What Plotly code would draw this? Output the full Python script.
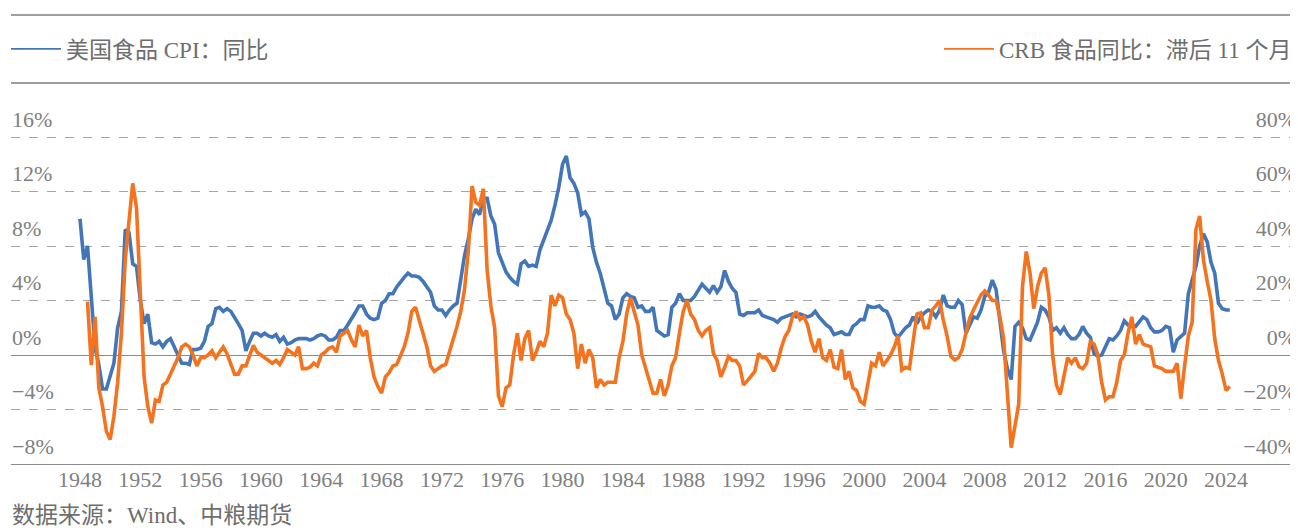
import pandas as pd
import plotly.graph_objects as go

# ---------------- data (quarterly readings from the chart) ----------------
cpi_start = "1948-01-01"
cpi_food_yoy = [
    # 1948-1959
    10.0, 7.0, 8.0, 4.5, 0.5, -0.7, -2.5, -2.5, -1.6, -0.6, 2.0, 3.2,
    9.2, 9.0, 6.7, 6.5, 4.0, 2.3, 3.0, 0.9, 0.8, 1.0, 0.6, 1.0,
    1.2, 0.6, -0.1, -0.6, -0.6, -0.7, 0.4, 0.4, 0.5, 1.0, 2.1, 2.3,
    3.4, 3.5, 3.2, 3.4, 3.2, 2.8, 2.3, 1.8, 0.3, 1.0, 1.6, 1.6,
    # 1960-1972
    1.4, 1.6, 1.4, 1.3, 1.5, 1.0, 1.3, 0.8, 0.9, 1.1, 1.2, 1.2,
    1.2, 1.1, 1.2, 1.4, 1.5, 1.4, 1.1, 1.1, 1.3, 1.8, 1.8, 2.2,
    2.6, 3.1, 3.6, 3.6, 3.0, 2.7, 2.6, 2.7, 3.8, 4.0, 4.5, 4.5,
    5.0, 5.4, 5.7, 6.0, 5.8, 5.8, 5.7, 5.4, 5.0, 4.6, 3.6, 3.3,
    3.3, 2.9, 3.3, 3.6,
    # 1973-1985
    3.8, 5.5, 7.3, 8.5, 10.0, 10.7, 10.3, 11.5, 11.5, 10.2, 9.6, 7.5,
    6.8, 6.1, 5.7, 5.4, 5.2, 6.7, 6.9, 6.5, 6.6, 6.5, 7.7, 8.5,
    9.2, 9.9, 11.0, 12.3, 14.0, 14.6, 13.0, 12.6, 11.9, 10.3, 10.5, 10.0,
    7.9, 6.8, 6.0, 5.0, 3.8, 3.6, 2.6, 3.0, 4.2, 4.5, 4.3, 4.2,
    3.5, 3.6, 3.2, 3.2,
    # 1986-1998
    3.5, 1.8, 1.6, 1.4, 1.5, 3.5, 3.8, 4.5, 4.0, 4.0, 4.0, 4.3,
    4.8, 5.2, 4.9, 4.6, 5.1, 4.6, 5.0, 6.2, 5.4, 4.9, 4.6, 3.0,
    2.9, 3.1, 3.1, 3.1, 3.3, 2.9, 2.8, 2.7, 2.6, 2.4, 2.7, 2.8,
    2.9, 3.0, 2.8, 3.0, 2.9, 2.8, 2.9, 3.2, 2.8, 2.5, 2.2, 2.0,
    1.5, 1.6, 1.7, 1.5,
    # 1999-2011
    1.5, 2.1, 2.3, 2.6, 2.6, 3.6, 3.5, 3.5, 3.6, 3.3, 3.2, 2.6,
    1.6, 1.3, 1.6, 2.0, 2.2, 2.8, 2.3, 2.8, 3.1, 3.3, 3.2, 2.8,
    3.3, 4.4, 3.6, 3.5, 3.5, 4.0, 3.7, 1.6, 2.2, 2.8, 2.7, 3.3,
    4.3, 4.6, 5.5, 4.8, 2.5, 0.3, -1.0, -1.8, 2.1, 2.4, 2.0, 1.2,
    1.1, 1.8, 2.4, 3.5,
    # 2012-2024
    3.3, 2.8, 1.8, 2.0, 1.6, 2.0, 1.5, 1.2, 1.2, 1.5, 2.1, 1.6,
    1.3, 0.1, -0.1, 0.0, 0.6, 1.2, 1.1, 1.4, 1.8, 2.5, 2.2, 2.1,
    2.1, 2.4, 2.8, 2.6, 2.0, 1.7, 1.7, 1.8, 2.1, 2.0, 0.2, 1.1,
    1.4, 1.6, 4.5, 5.5, 6.5, 8.0, 8.9, 8.3, 6.8, 6.0, 3.8, 3.4,
    3.3, 3.3,
]

crb_start = "1948-07-01"
crb_food_yoy_lag11 = [
    # 1948-1959
    19.6, -3.7, 14.0, -12, -19, -28, -31, -22.5, -10, 8,
    35, 50, 63, 54, 20, -8, -19, -25, -16.5, -17, -11, -10,
    -7, -4, -1, 3, 4, 3, 0, -4, -1, -1, 0, 1.5,
    -1, 1, 3, 0.5, -3, -7, -7, -4, -4, -0.5, 3.5, 1,
    # 1960-1972
    0, -1, -2, -3, -2, -3.5, -1, 2, 1, 0, 3, -5,
    -5, -4.5, -3, -4, 0, 1, 2.5, 3, 1, 7, 8, 9,
    5.5, 3, 11, 7, 9, -1, -8, -11.5, -14, -8, -6.5, -4,
    -3.5, 0, 3, 8, 16, 17.5, 13, 8, 3, -4, -6, -5,
    -4, -3.5, 1, 6,
    # 1973-1985
    10.5, 16, 24, 38, 62, 56, 55, 61, 31, 18, 10, -15,
    -19, -12, -11, 0, 8, -2, 6, 9, -2, 1, 5, 3,
    8, 22, 18, 22, 21, 15, 13, 8, -5, 4, -3, 2,
    -1, -12, -9, -11, -10, -10, -10, -1, 5, 15, 21, 16,
    11, 0, -5, -10,
    # 1986-1998
    -14, -14, -9, -15, -11, -4, -1, 8, 16, 20, 15, 13,
    9, 7, 9, 10, 0.6, -2, -8, -4.5, -0.6, -2, -2, -4,
    -11, -9.5, -8, -6, 0.6, -1, -1, -3, -6, -3, 2.5, 6.7,
    9, 14, 16, 13, 14, 11, 5, 1, 6, -1, -2, 2,
    -4.5, -5, 2, -9,
    # 1999-2011
    -6, -12, -13, -17, -18, -10, -3, -4, 1, -4, -2, 0,
    3, 7, -5.5, -4.5, -5, 5, 15, 15.5, 10, 10, 16.5, 18,
    20, 12.8, 7, -0.5, -1.8, -1, 2, 8, 13.5, 16.5, 19, 22,
    23.5, 22, 20, 20, 14, 6, -14, -34, -26, -18, 25, 38,
    30, 17, 25, 30,
    # 2012-2024
    32, 22, 0, -11, -14.5, -8, -1, -3, -1, -4.3, -5, -3,
    5, 4, 0, -10, -16.5, -15.3, -15.3, -10, -2, 0, 8, 14,
    4, 7.5, 4, 3.5, 3, -4, -4.5, -5, -6, -6, -6, -3,
    -16, -4, 7, 12, 46, 51, 35, 27, 20, 6, -2, -7,
    -13, -11.6,
]

left_ticks = [-8, -4, 0, 4, 8, 12, 16]
right_ticks = [-40, -20, 0, 20, 40, 60, 80]
year_ticks = list(range(1948, 2025, 4))

name_cpi = "美国食品 CPI：同比"
name_crb = "CRB 食品同比：滞后 11 个月"
source_text = "数据来源：Wind、中粮期货"

# ---------------- geometry (page pixels; the page body has an 8px margin) ----------------
OFF = 8
W, H = 1298 - OFF, 528 - OFF
PL, PR = 11 - OFF, 1297 - OFF      # plot area left / right
PT, PB = 100 - OFF, 464 - OFF      # plot area top / bottom
GRID_TOP = 137 - OFF               # row of the 16% gridline
px_per_pct = (PB - GRID_TOP) / (left_ticks[-1] - left_ticks[0])
left_top = left_ticks[-1] + (GRID_TOP - PT) / px_per_pct
ratio = right_ticks[-1] / left_ticks[-1]

BLUE = "#4276B8"
ORANGE = "#F4731F"
TXT = "#6e6e6e"
AX_TXT = "#808080"
FONT = "Liberation Serif, Noto Sans CJK SC, serif"


def py(p):  # page pixel row -> paper y
    return (PB - (p - OFF)) / (PB - PT)


def px(p):  # page pixel column -> paper x
    return ((p - OFF) - PL) / (PR - PL)


x_cpi = pd.date_range(cpi_start, periods=len(cpi_food_yoy), freq="QS")
x_crb = pd.date_range(crb_start, periods=len(crb_food_yoy_lag11), freq="QS")

fig = go.Figure()
fig.add_trace(go.Scatter(
    x=x_cpi, y=cpi_food_yoy, name=name_cpi, mode="lines",
    line=dict(color=BLUE, width=3.6), showlegend=False,
))
fig.add_trace(go.Scatter(
    x=x_crb, y=crb_food_yoy_lag11, name=name_crb, mode="lines",
    line=dict(color=ORANGE, width=3.6), yaxis="y2", showlegend=False,
))
# legend keys drawn with a thin line, as in the reference
fig.add_trace(go.Scatter(
    x=[None], y=[None], name=name_cpi, mode="lines",
    line=dict(color=BLUE, width=1.8), legend="legend", hoverinfo="skip",
))
fig.add_trace(go.Scatter(
    x=[None], y=[None], name=name_crb, mode="lines",
    line=dict(color=ORANGE, width=1.8), yaxis="y2", legend="legend2", hoverinfo="skip",
))

# x range from pixel geometry: 1948 label centre at page px 80, 15.08 px / year
x0 = pd.Timestamp("1948-01-01")
day_px = 15.08 / 365.25
xr = [x0 + pd.Timedelta(days=(11 - 80) / day_px), x0 + pd.Timedelta(days=(1297 - 80) / day_px)]

fig.update_layout(
    width=W, height=H,
    margin=dict(l=PL, r=W - PR, t=PT, b=H - PB, pad=0, autoexpand=False),
    paper_bgcolor="white", plot_bgcolor="white",
    font=dict(family=FONT, size=22, color=AX_TXT),
    showlegend=True,
    legend=dict(
        x=px(6), xanchor="left", y=py(49), yanchor="middle",
        font=dict(family=FONT, size=23, color=TXT),
        bgcolor="rgba(0,0,0,0)", itemwidth=50,
    ),
    legend2=dict(
        x=1, xanchor="right", y=py(49), yanchor="middle",
        font=dict(family=FONT, size=23, color=TXT),
        bgcolor="rgba(0,0,0,0)", itemwidth=50,
    ),
    xaxis=dict(
        type="date", range=xr,
        tickvals=[pd.Timestamp(f"{y}-01-01") for y in year_ticks],
        ticktext=[str(y) for y in year_ticks],
        showgrid=False, zeroline=False,
        showline=True, linecolor="#8c8c8c", linewidth=1.3,
        ticks="", ticklabelstandoff=-5,
        tickfont=dict(family=FONT, size=22, color=AX_TXT),
    ),
    yaxis=dict(
        range=[left_ticks[0], left_top],
        tickvals=left_ticks, ticktext=[f"{v}%".replace("-", "\u2212") for v in left_ticks],
        showgrid=True, gridcolor="#a6a6a6", griddash="dash", gridwidth=1,
        zeroline=True, zerolinecolor="#8c8c8c", zerolinewidth=1.3,
        showline=False, ticks="",
        ticklabelposition="inside", ticklabelshift=-18, ticklabelstandoff=-2,
        tickfont=dict(family=FONT, size=22, color=AX_TXT),
    ),
    yaxis2=dict(
        overlaying="y", side="right",
        range=[right_ticks[0], left_top * ratio],
        tickvals=right_ticks, ticktext=[f"{v}%".replace("-", "\u2212") for v in right_ticks],
        showgrid=False, zeroline=False, showline=False, ticks="",
        ticklabelposition="inside", ticklabelshift=-18, ticklabelstandoff=-2,
        tickfont=dict(family=FONT, size=22, color=AX_TXT),
    ),
)

# horizontal rules framing the legend
for yy in (15, 83):
    fig.add_shape(type="line", xref="paper", yref="paper", x0=0, x1=1,
                  y0=py(yy), y1=py(yy), line=dict(color="#7f7f7f", width=1.3))

fig.add_annotation(
    text=source_text, xref="paper", yref="paper",
    x=px(10), xanchor="left", y=py(515), yanchor="middle",
    showarrow=False, font=dict(family=FONT, size=23, color=TXT),
)

fig.write_html("out.html")
